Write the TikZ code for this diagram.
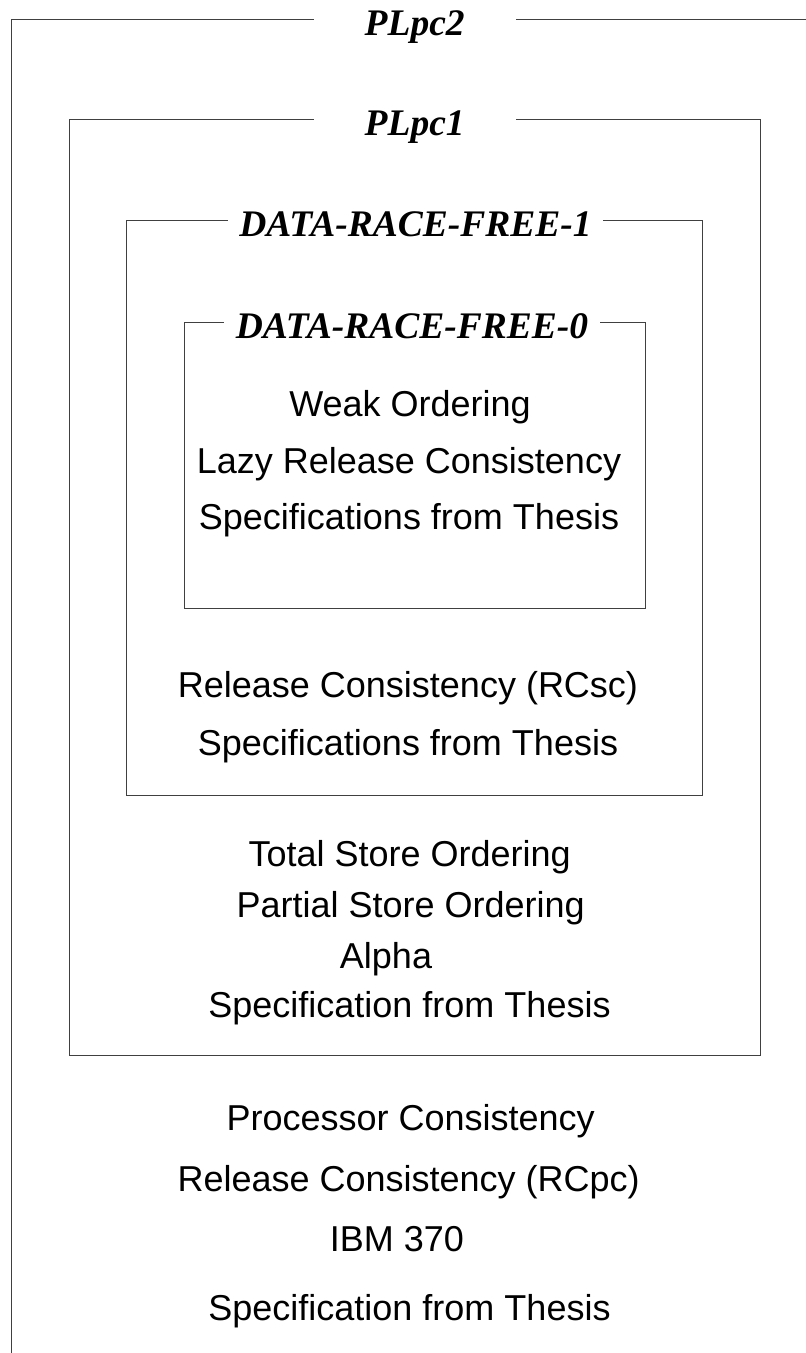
\documentclass[tikz,border=0pt]{standalone}
\usepackage{fontspec}
\setmainfont{Liberation Sans}
\newfontfamily\titlefont{Liberation Serif}
\begin{document}
\begin{tikzpicture}[x=1pt,y=-1pt,
  frame/.style={draw=black!75, line width=1pt},
  boxtitle/.style={font=\titlefont\bfseries\itshape\fontsize{37.5}{40}\selectfont,
    inner sep=0pt, text height=32pt, text depth=0pt},
  entry/.style={font=\fontsize{36}{40}\selectfont, anchor=base, inner sep=0pt}]
\useasboundingbox (0,0) rectangle (806,1353);
\clip (0,0) rectangle (806,1353);

% corners of the nested frames
\coordinate (o-sw) at (11.7,1400);  \coordinate (o-ne) at (860,19);
\coordinate (p1-sw) at (69.3,1055); \coordinate (p1-ne) at (760,119.3);
\coordinate (d1-sw) at (126.7,795.7); \coordinate (d1-ne) at (702.7,220);
\coordinate (d0-sw) at (184,608);   \coordinate (d0-ne) at (645.5,322);

% frame titles (their width is the gap left in the top edge)
\node[boxtitle, minimum width=202pt] (plpc2) at (414.7,19) {PLpc2};
\node[boxtitle, minimum width=202pt] (plpc1) at (414.7,119.3) {PLpc1};
\node[boxtitle, minimum width=375pt] (drf1) at (415.5,220) {DATA-RACE-FREE-1};
\node[boxtitle, minimum width=376pt] (drf0) at (412,322) {DATA-RACE-FREE-0};

% frames
\draw[frame] (plpc2.west) -| (o-sw) -| (o-ne) -- (plpc2.east);
\draw[frame] (plpc1.west) -| (p1-sw) -| (p1-ne) -- (plpc1.east);
\draw[frame] (drf1.west) -| (d1-sw) -| (d1-ne) -- (drf1.east);
\draw[frame] (drf0.west) -| (d0-sw) -| (d0-ne) -- (drf0.east);

% DATA-RACE-FREE-0 members
\node[entry] (wo)   at (410,416)   {Weak Ordering};
\node[entry] (lrc)  at (409,473) {Lazy Release Consistency};
\node[entry] (sp0)  at (409,529)   {Specifications from Thesis};

% DATA-RACE-FREE-1 members
\node[entry] (rcsc) at (408,697.3) {Release Consistency (RCsc)};
\node[entry] (sp1)  at (408,755)   {Specifications from Thesis};

% PLpc1 members
\node[entry] (tso)  at (409.7,866)   {Total Store Ordering};
\node[entry] (pso)  at (410.7,917.7) {Partial Store Ordering};
\node[entry] (alpha) at (386,968.3)  {Alpha};
\node[entry] (sp2)  at (409.5,1017.7) {Specification from Thesis};

% PLpc2 members
\node[entry] (pc)   at (410.7,1130)   {Processor Consistency};
\node[entry] (rcpc) at (408.7,1191.7) {Release Consistency (RCpc)};
\node[entry] (ibm)  at (397,1251)     {IBM 370};
\node[entry] (sp3)  at (409.5,1320) {Specification from Thesis};
\end{tikzpicture}
\end{document}
